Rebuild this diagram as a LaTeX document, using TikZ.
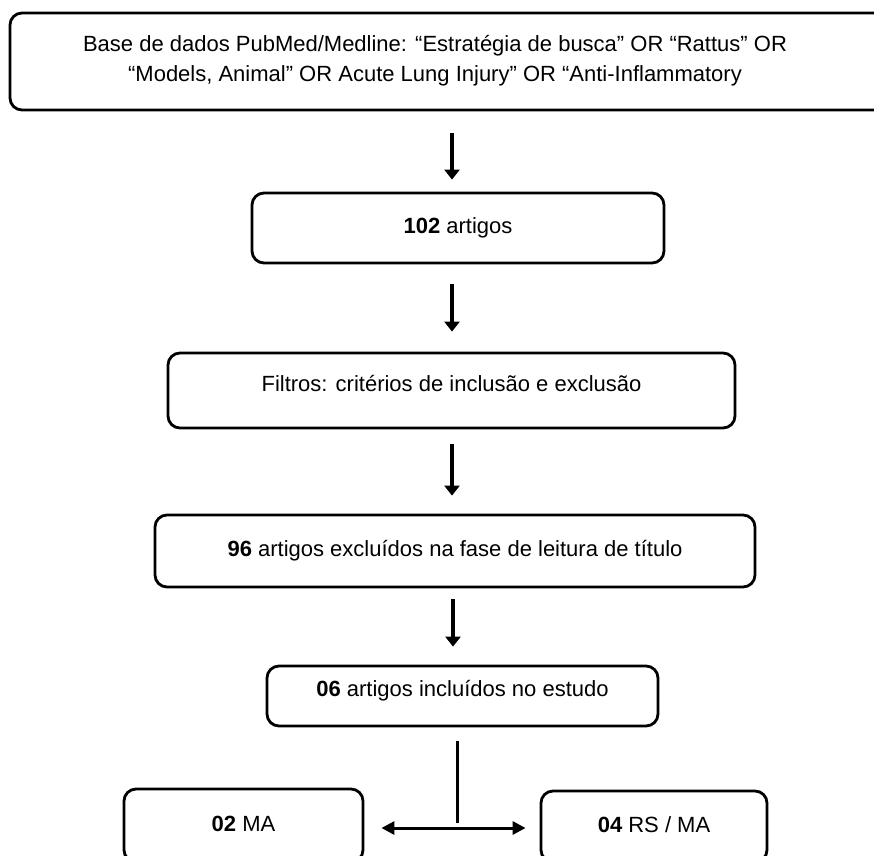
\documentclass[tikz,border=0pt]{standalone}
\usepackage{fontspec}
\setmainfont{Liberation Sans}
\usetikzlibrary{arrows.meta,calc}
\begin{document}
\begin{tikzpicture}[x=1pt,y=-1pt,
 box/.style={draw,line width=2.8pt,rounded corners=12pt,inner sep=0pt,
   font=\fontsize{22}{30}\selectfont,text height=16pt,text depth=4.6pt},
 raised/.style={text depth=14.6pt},
 txt/.style={inner sep=0pt,font=\fontsize{22}{30}\selectfont,align=center},
 varrow/.style={line width=4.5pt,-{Triangle[width=15pt,length=10pt]}},
 harrow/.style={line width=3pt,{Triangle[width=13pt,length=13pt]}-{Triangle[width=13pt,length=13pt]}},
 plainline/.style={line width=3pt}]
\useasboundingbox (0,0) rectangle (874,855);
\clip (0,0) rectangle (874,855);
\fill[white] (0,0) rectangle (874,855);
\coordinate (ax) at (452,0);
\coordinate (ax2) at (453,0);
\coordinate (hy) at (0,828);
\coordinate (vx) at (457,0);
\node[box,minimum width=878pt,minimum height=97pt] (top) at (449,61.5) {};
\node[txt] (toptext) at (435,61) {Base de dados PubMed/Medline: “Estratégia de busca” OR “Rattus” OR\\“Models, Animal” OR Acute Lung Injury” OR “Anti-Inflammatory};
\node[box,minimum width=412pt,minimum height=70pt] (b2) at (458,228) {\textbf{102} artigos};
\node[box,raised,minimum width=567pt,minimum height=75pt] (b3) at (451.5,390.5) {Filtros: critérios de inclusão e exclusão};
\node[box,minimum width=600pt,minimum height=72pt] (b4) at (455,551) {\textbf{96} artigos excluídos na fase de leitura de título};
\node[box,raised,minimum width=391pt,minimum height=60pt] (b5) at (462.5,696) {\textbf{06} artigos incluídos no estudo};
\node[box,minimum width=239pt,minimum height=73pt] (b6) at (243.5,825.5) {\textbf{02} MA};
\node[box,minimum width=226pt,minimum height=71pt] (b7) at (654,826.5) {\textbf{04} RS / MA};
\draw[varrow] ([yshift=-22pt]top.south -| ax) -- ([yshift=12pt]b2.north -| ax);
\draw[varrow] ([yshift=-20pt]b2.south -| ax) -- ([yshift=20pt]b3.north -| ax);
\draw[varrow] ([yshift=-15pt]b3.south -| ax) -- ([yshift=18pt]b4.north -| ax);
\draw[varrow] ([yshift=-11pt]b4.south -| ax2) -- ([yshift=18pt]b5.north -| ax2);
\coordinate (junction) at (457,823);
\draw[plainline] ([yshift=-14pt]b5.south -| vx) -- (junction);
\draw[harrow] ([xshift=17pt]b6.east |- hy) -- ([xshift=-14pt]b7.west |- hy);
\end{tikzpicture}
\end{document}
